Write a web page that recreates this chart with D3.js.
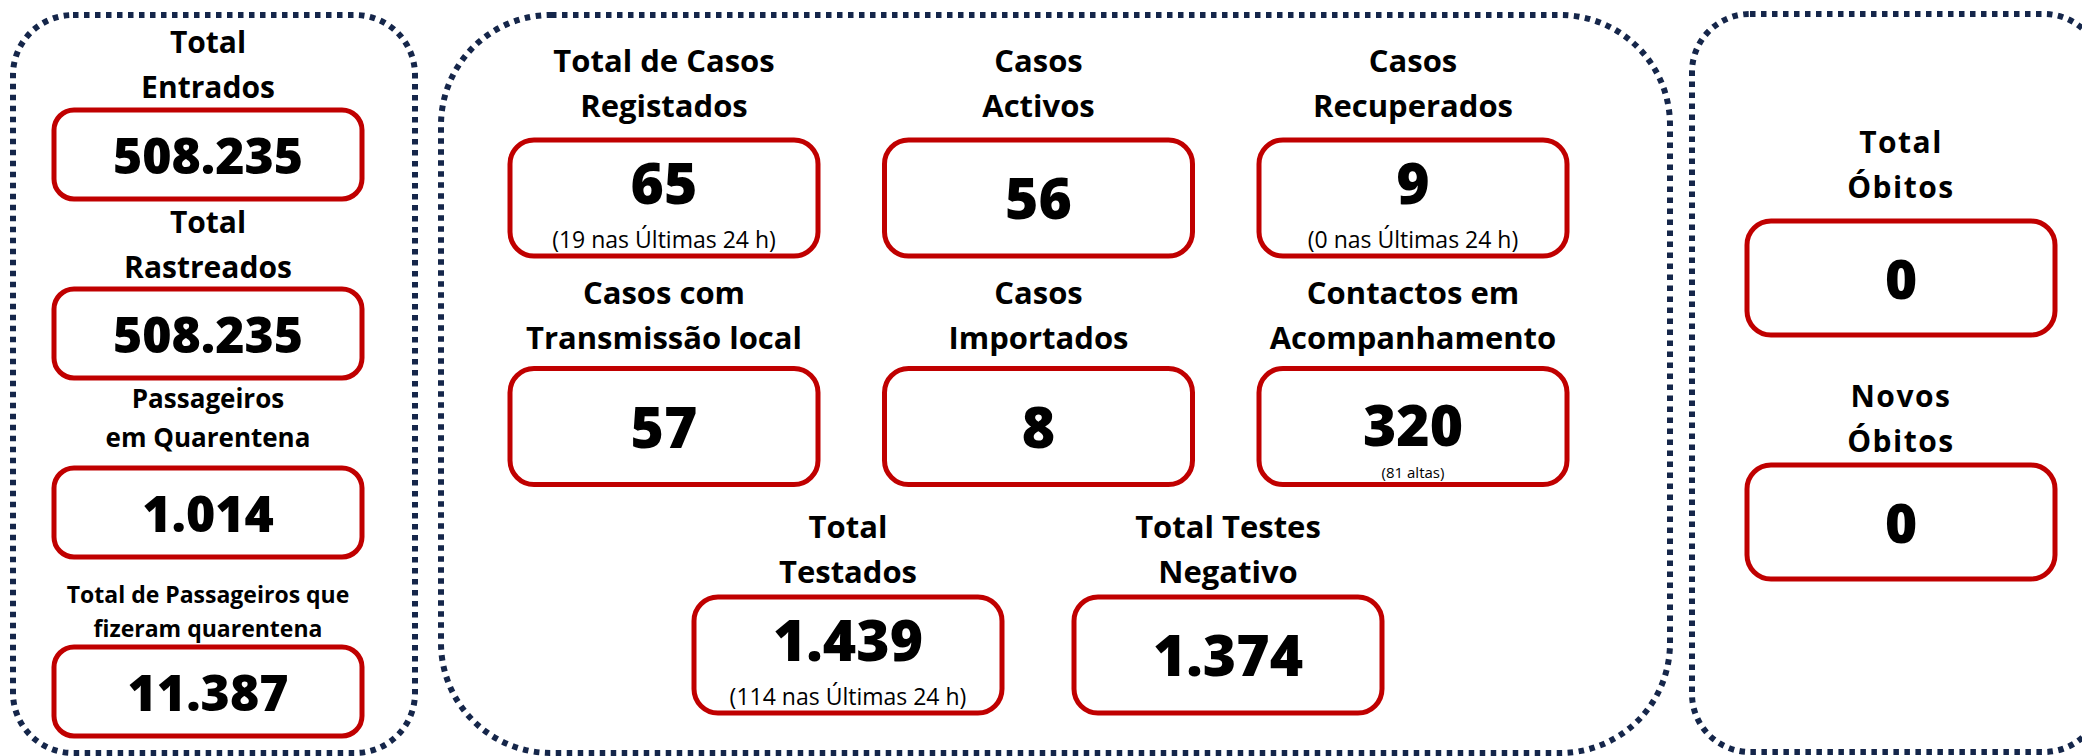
<!DOCTYPE html>
<html>
<head>
<meta charset="utf-8">
<script src="https://cdn.jsdelivr.net/npm/d3@7"></script>
<style>
  body { margin: 0; background: #fff; }
  svg { display: block; }
  text { font-family: "Open Sans", "Noto Sans", sans-serif; fill: #000; }
</style>
</head>
<body>
<div id="board"></div>
<script>
// left column - travellers
var leftLabels = [["Total", "Entrados"], ["Total", "Rastreados"], ["Passageiros", "em Quarentena"], ["Total de Passageiros que", "fizeram quarentena"]];
var leftValues = [508235, 508235, 1014, 11387];

// centre - cases and tests
var caseLabels = [["Total de Casos", "Registados"], ["Casos", "Activos"], ["Casos", "Recuperados"],
                  ["Casos com", "Transmissão local"], ["Casos", "Importados"], ["Contactos em", "Acompanhamento"],
                  ["Total", "Testados"], ["Total Testes", "Negativo"]];
var caseValues = [65, 56, 9, 57, 8, 320, 1439, 1374];
var caseNotes = ["(19 nas Últimas 24 h)", "", "(0 nas Últimas 24 h)", "", "", "(81 altas)", "(114 nas Últimas 24 h)", ""];

// right column - deaths
var deathLabels = [["Total", "Óbitos"], ["Novos", "Óbitos"]];
var deathValues = [0, 0];

var W = 2082, H = 756;
var red = "#c00000", navy = "#15264a";
var fmt = d3.formatLocale({decimal: ",", thousands: ".", grouping: [3], currency: ["", ""]}).format(",d");

var svg = d3.select("#board").append("svg")
    .attr("width", W)
    .attr("height", H);

// dotted panel outlines
var panels = [
  {x0: 13, y0: 15, x1: 415, y1: 753, r: 60},
  {x0: 441, y0: 15, x1: 1670, y1: 753, r: 110},
  {x0: 1692, y0: 14, x1: 2102, y1: 752, r: 58}
];
svg.selectAll("rect.panel")
  .data(panels)
  .enter()
  .append("rect")
    .attr("class", "panel")
    .attr("x", function(d) { return d.x0; })
    .attr("y", function(d) { return d.y0; })
    .attr("width", function(d) { return d.x1 - d.x0; })
    .attr("height", function(d) { return d.y1 - d.y0; })
    .attr("rx", function(d) { return d.r; })
    .attr("fill", "none")
    .attr("stroke", navy)
    .attr("stroke-width", 6)
    .attr("stroke-dasharray", "5.5 5.5");

function drawCard(o) {
  var g = svg.append("g");
  g.append("rect")
    .attr("x", o.cx - o.w / 2)
    .attr("y", o.top)
    .attr("width", o.w)
    .attr("height", o.h)
    .attr("rx", o.rx)
    .attr("fill", "#fff")
    .attr("stroke", red)
    .attr("stroke-width", 5);

  var n = o.lines.length;
  o.lines.forEach(function(t, i) {
    g.append("text")
      .attr("x", o.cx)
      .attr("y", o.top + o.labelOffset - (n - 1 - i) * o.lineGap)
      .attr("text-anchor", "middle")
      .style("font-size", o.labelSize + "px")
      .style("font-weight", 700)
      .style("letter-spacing", (o.spacing || 0) + "px")
      .text(t);
  });

  g.append("text")
    .attr("x", o.cx)
    .attr("y", o.top + o.valueY)
    .attr("text-anchor", "middle")
    .style("font-size", o.valueSize + "px")
    .style("font-weight", 800)
    .text(fmt(o.value));

  if (o.note) {
    g.append("text")
      .attr("x", o.cx)
      .attr("y", o.top + o.noteY)
      .attr("text-anchor", "middle")
      .style("font-size", o.noteSize + "px")
      .style("font-weight", 400)
      .text(o.note);
  }
}

// left column
var leftY = d3.scaleLinear().domain([0, leftValues.length - 1]).range([110, 647]);
var leftSize = [30, 30, 26, 23];
var leftOffset = [-12, -11, -21, -10];
var leftGap = [45, 45, 39, 34];
leftValues.forEach(function(v, i) {
  drawCard({
    cx: 208, top: leftY(i), w: 308, h: 89, rx: 20,
    lines: leftLabels[i], labelSize: leftSize[i], labelOffset: leftOffset[i], lineGap: leftGap[i],
    value: v, valueSize: 50, valueY: 64
  });
});

// centre grid: two rows of three, then a row of two
var colX = d3.scalePoint().domain([0, 1, 2]).range([664, 1413]);
var lastX = d3.scalePoint().domain([0, 1]).range([848, 1228]);
var rowY = d3.scalePoint().domain([0, 1, 2]).range([140, 597]);
var rowOffset = [-23, -20, -14];
caseValues.forEach(function(v, i) {
  var row = Math.floor(i / 3), col = i % 3;
  var note = caseNotes[i];
  var small = note && note.length < 12;
  drawCard({
    cx: row < 2 ? colX(col) : lastX(col), top: rowY(row), w: 308, h: 116, rx: 24,
    lines: caseLabels[i], labelSize: 31, labelOffset: rowOffset[row], lineGap: 45,
    value: v, valueSize: 57,
    valueY: !note ? 79 : (small ? 77 : 64),
    note: note, noteSize: small ? 15 : 23, noteY: small ? 109 : 108
  });
});

// right column
var rightY = d3.scalePoint().domain([0, 1]).range([221, 465]);
var rightOffset = [-23, -13];
deathValues.forEach(function(v, i) {
  drawCard({
    cx: 1901, top: rightY(i), w: 308, h: 114, rx: 24,
    lines: deathLabels[i], labelSize: 30, labelOffset: rightOffset[i], lineGap: 45, spacing: 1.5,
    value: v, valueSize: 55, valueY: 78
  });
});
</script>
</body>
</html>
